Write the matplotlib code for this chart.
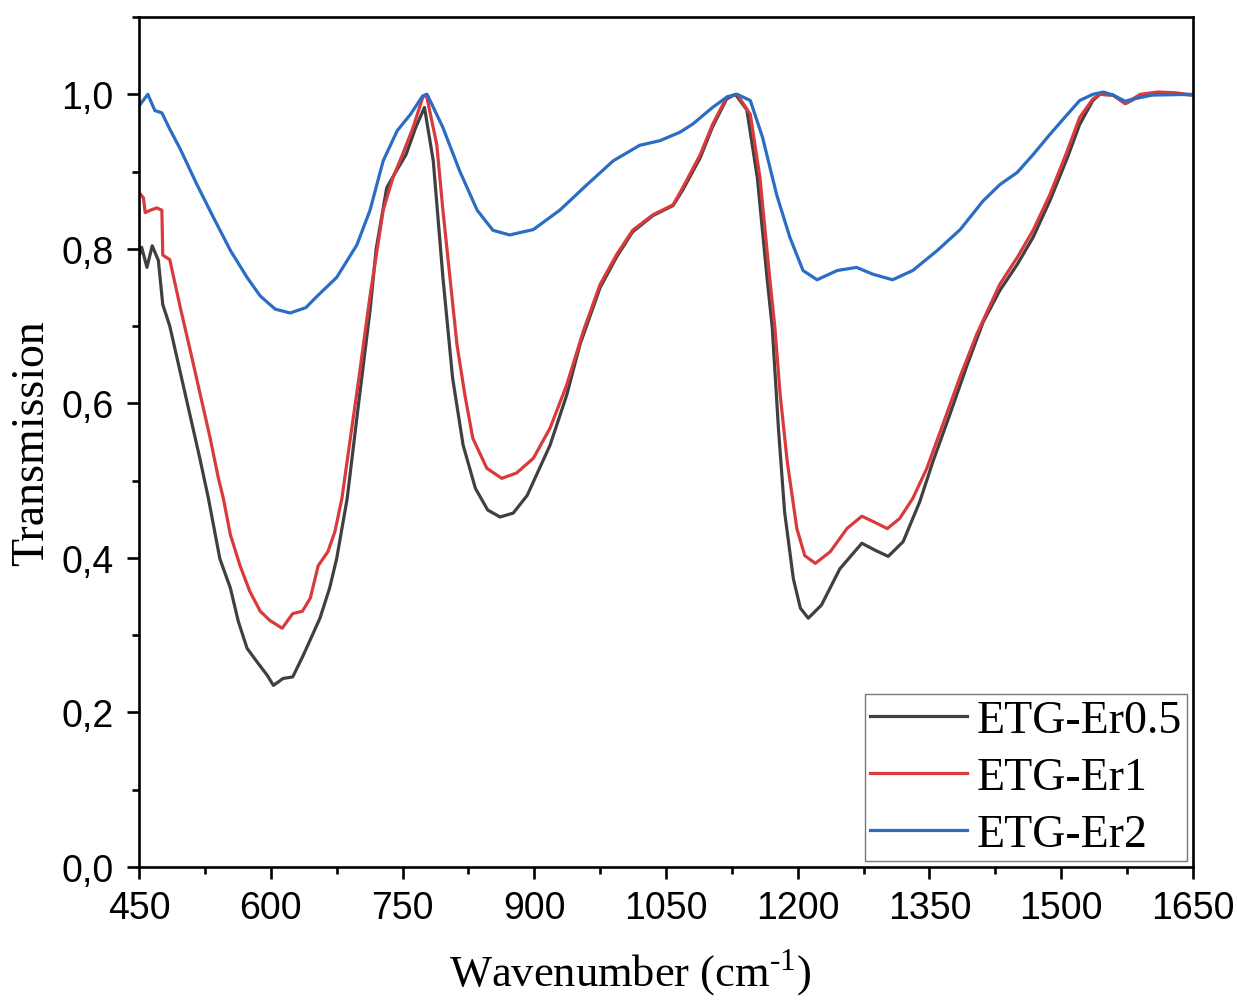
#!/usr/bin/env python3
# -*- coding: utf-8 -*-
"""
FTIR transmission spectra of the ETG-Er glasses.
"""

import matplotlib
matplotlib.use('Agg')
import matplotlib.pyplot as plt
from matplotlib.ticker import MultipleLocator, FuncFormatter

# Data (wavenumber in cm-1, transmission).
labels = ['ETG-Er0.5', 'ETG-Er1', 'ETG-Er2']
colors = ['#404040', '#d93a3c', '#2b6cc4']

wn_er05 = [450, 453, 459, 465, 472, 477, 485, 497, 508, 519, 529, 542, 554, 563,
           573, 584, 596, 603, 614, 625, 637, 656, 667, 675, 687, 700, 713, 720,
           732, 743, 754, 765, 775, 785, 796, 807, 819, 833, 847, 861, 876, 892,
           918, 937, 952, 975, 994, 1012, 1035, 1058, 1069, 1089, 1103, 1119,
           1129, 1142, 1154, 1165, 1171, 1178, 1185, 1195, 1203, 1212, 1227,
           1248, 1273, 1288, 1303, 1320, 1339, 1354, 1373, 1393, 1411, 1430,
           1450, 1468, 1487, 1507, 1521, 1536, 1544, 1559, 1573, 1590, 1610, 1650]
tr_er05 = [0.79, 0.802, 0.776, 0.804, 0.785, 0.728, 0.70, 0.64, 0.585, 0.53, 0.477,
           0.399, 0.361, 0.318, 0.283, 0.266, 0.248, 0.235, 0.244, 0.246, 0.274,
           0.322, 0.361, 0.399, 0.477, 0.60, 0.72, 0.80, 0.879, 0.901, 0.922,
           0.957, 0.983, 0.914, 0.763, 0.633, 0.546, 0.49, 0.462, 0.453, 0.458,
           0.481, 0.546, 0.611, 0.676, 0.75, 0.79, 0.822, 0.843, 0.856, 0.876,
           0.918, 0.958, 0.994, 1.0, 0.98, 0.892, 0.763, 0.698, 0.568, 0.46,
           0.373, 0.335, 0.322, 0.339, 0.386, 0.419, 0.41, 0.402, 0.421, 0.473,
           0.525, 0.585, 0.65, 0.705, 0.746, 0.78, 0.815, 0.862, 0.918, 0.961,
           0.992, 1.0, 0.999, 0.988, 0.998, 1.002, 0.999]

wn_er1 = [450, 455, 457, 463, 470, 476, 477, 485, 497, 508, 519, 531, 540, 546,
          554, 565, 576, 588, 599, 613, 625, 636, 645, 654, 665, 673, 681, 690,
          700, 713, 728, 739, 750, 762, 773, 777, 789, 796, 804, 812, 821, 830,
          846, 863, 880, 899, 918, 937, 956, 975, 994, 1012, 1035, 1058, 1069,
          1089, 1103, 1119, 1131, 1146, 1157, 1168, 1174, 1180, 1188, 1199,
          1208, 1220, 1237, 1256, 1273, 1286, 1302, 1316, 1331, 1347, 1365,
          1385, 1404, 1430, 1450, 1468, 1487, 1507, 1521, 1536, 1544, 1559,
          1573, 1590, 1610, 1630, 1650]
tr_er1 = [0.873, 0.866, 0.847, 0.850, 0.853, 0.850, 0.792, 0.786, 0.724, 0.67,
          0.615, 0.555, 0.505, 0.477, 0.43, 0.390, 0.357, 0.331, 0.319, 0.309,
          0.328, 0.331, 0.348, 0.39, 0.408, 0.434, 0.477, 0.55, 0.63, 0.739,
          0.850, 0.892, 0.922, 0.957, 0.996, 1.0, 0.935, 0.85, 0.763, 0.676,
          0.611, 0.555, 0.516, 0.503, 0.51, 0.529, 0.568, 0.624, 0.694, 0.754,
          0.793, 0.824, 0.844, 0.857, 0.879, 0.922, 0.961, 0.996, 1.0, 0.974,
          0.892, 0.763, 0.698, 0.611, 0.525, 0.438, 0.403, 0.393, 0.408, 0.438,
          0.454, 0.447, 0.438, 0.451, 0.477, 0.516, 0.572, 0.635, 0.69, 0.754,
          0.789, 0.824, 0.870, 0.927, 0.97, 0.994, 1.0, 0.999, 0.988, 1.0,
          1.003, 1.002, 0.999]

wn_er2 = [450, 460, 468, 476, 485, 497, 516, 535, 554, 573, 588, 605, 622, 640,
          653, 675, 698, 713, 728, 744, 759, 773, 778, 796, 815, 835, 853, 872,
          899, 929, 960, 990, 1020, 1043, 1066, 1081, 1103, 1120, 1131, 1146,
          1160, 1176, 1191, 1206, 1222, 1245, 1267, 1286, 1308, 1331, 1359,
          1385, 1411, 1430, 1450, 1468, 1487, 1507, 1521, 1536, 1548, 1559,
          1573, 1582, 1604, 1650]
tr_er2 = [0.985, 1.0, 0.979, 0.976, 0.955, 0.929, 0.883, 0.840, 0.798, 0.763,
          0.739, 0.722, 0.717, 0.724, 0.739, 0.763, 0.805, 0.850, 0.914, 0.953,
          0.974, 0.998, 1.0, 0.957, 0.901, 0.850, 0.824, 0.818, 0.825, 0.850,
          0.883, 0.914, 0.934, 0.940, 0.951, 0.962, 0.983, 0.997, 1.0, 0.992,
          0.944, 0.870, 0.815, 0.772, 0.760, 0.772, 0.776, 0.767, 0.760, 0.772,
          0.798, 0.825, 0.862, 0.883, 0.899, 0.922, 0.948, 0.974, 0.992, 1.0,
          1.003, 0.999, 0.991, 0.994, 0.999, 1.0]

wn_all = [wn_er05, wn_er1, wn_er2]
tr_all = [tr_er05, tr_er1, tr_er2]

x_ticks = [450, 600, 750, 900, 1050, 1200, 1350, 1500, 1650]
y_ticks = [0.0, 0.2, 0.4, 0.6, 0.8, 1.0]

sans = ['Liberation Sans', 'DejaVu Sans']
serif = ['Liberation Serif', 'DejaVu Serif']
plt.rcParams['mathtext.fontset'] = 'custom'
plt.rcParams['mathtext.rm'] = 'Liberation Serif'

fig = plt.figure(figsize=(12.37, 10.03), dpi=100)
ax = fig.add_axes([0.1124, 0.1346, 0.852, 0.8474])

for wn, tr, lab, col in zip(wn_all, tr_all, labels, colors):
    ax.plot(wn, tr, '-', color=col, lw=2.3, label=lab, solid_joinstyle='round')

ax.set_xlim(450, 1650)
ax.set_ylim(0, 1.1)
ax.set_xticks(x_ticks)
ax.set_yticks(y_ticks)
ax.xaxis.set_minor_locator(MultipleLocator(75))
ax.yaxis.set_minor_locator(MultipleLocator(0.1))
ax.yaxis.set_major_formatter(FuncFormatter(lambda v, p: f'{v:.1f}'.replace('.', ',')))

for s in ax.spines.values():
    s.set_linewidth(1.9)
ax.tick_params(which='major', direction='out', length=8.5, width=1.9,
               labelsize=27)
ax.tick_params(axis='x', which='major', pad=8)
ax.tick_params(axis='y', which='major', pad=10)
ax.tick_params(which='minor', direction='out', length=5, width=1.9)
for t in ax.get_xticklabels() + ax.get_yticklabels():
    t.set_family(sans)

ax.set_xlabel(r'Wavenumber (cm$^{\text{-}1}$)', family=serif, fontsize=32)
ax.xaxis.set_label_coords(0.466, -0.094)
ax.set_ylabel('Transmission', family=serif, fontsize=33, labelpad=6)

leg = ax.legend(loc='lower right', fancybox=False, frameon=True,
                prop={'family': serif, 'size': 33}, handlelength=2.1,
                borderaxespad=0.12, labelspacing=0.32, handletextpad=0.22,
                borderpad=0.12)
leg.get_frame().set_edgecolor('#555555')
leg.get_frame().set_linewidth(1.0)

plt.savefig('out.png', dpi=100)
